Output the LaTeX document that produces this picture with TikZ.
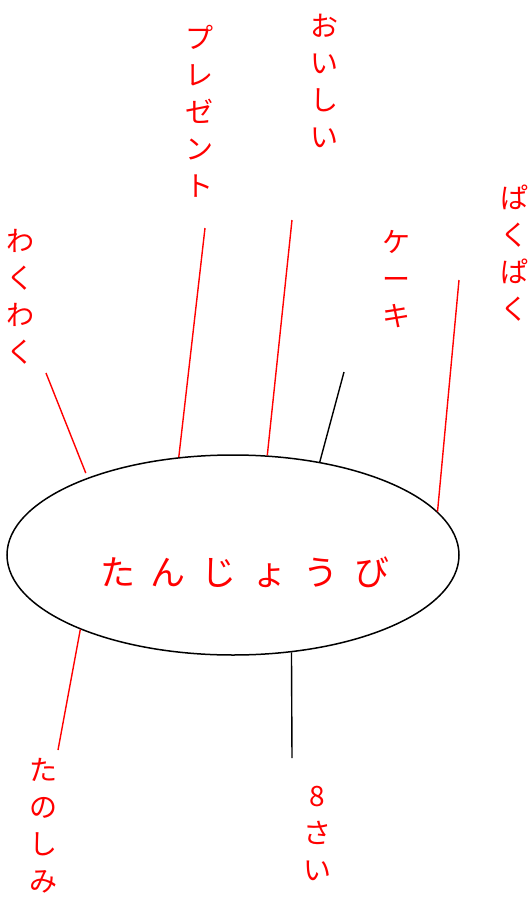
\documentclass[tikz,border=0pt]{standalone}
\usepackage{fontspec}
\usetikzlibrary{shapes.geometric}
\newfontfamily\jp{Noto Sans CJK JP}
\tikzset{
    vlabel/.style={text=red, align=center, inner sep=0pt, font=\jp\fontsize{28}{37}\selectfont},
    spoke/.style={red, line width=1.4pt},
    plain/.style={black, line width=1.4pt}
}
\begin{document}
\begin{tikzpicture}[x=1pt, y=-1pt]
            \useasboundingbox (0,0) rectangle (532,897);
            \node[draw, ellipse, line width=1.5pt, minimum width=452pt, minimum height=200pt, inner sep=0pt] (bday) at (233,555) {};
            \node[text=red, font=\jp\fontsize{35}{40}\selectfont] (title) at (245,572) {た\hspace{16pt}ん\hspace{16pt}じ\hspace{16pt}ょ\hspace{16pt}う\hspace{16pt}び};
            \node[vlabel] (wakuwaku) at (20,297) {わ\\く\\わ\\く};
            \node[vlabel] (present) at (199,111) {プ\\レ\\ゼ\\ン\\ト};
            \node[vlabel] (oishii) at (324,81) {お\\い\\し\\い};
            \node[vlabel] (cake) at (396,279) {ケ\\ー\\キ};
            \node[vlabel] (pakupaku) at (514,253) {ぱ\\く\\ぱ\\く};
            \node[vlabel] (tanoshimi) at (43,826) {た\\の\\し\\み};
            \node[vlabel] (age) at (317,833) {8\\さ\\い};
            \coordinate (wakuwaku-end) at (46,373);
            \coordinate (present-end) at (205,228);
            \coordinate (oishii-end) at (292,220);
            \coordinate (cake-end) at (344,372);
            \coordinate (pakupaku-end) at (459,280);
            \coordinate (tanoshimi-end) at (58,750);
            \coordinate (age-end) at (292,758);
            \draw[spoke, shorten >=5pt] (wakuwaku-end) -- (bday.152);
            \draw[spoke] (present-end) -- (bday.119);
            \draw[spoke] (oishii-end) -- (bday.71);
            \draw[plain] (cake-end) -- (bday.47);
            \draw[spoke] (pakupaku-end) -- (bday.12);
            \draw[spoke] (tanoshimi-end) -- (bday.206);
            \draw[plain] (age-end) -- (bday.301.3);
        \end{tikzpicture}
\end{document}
